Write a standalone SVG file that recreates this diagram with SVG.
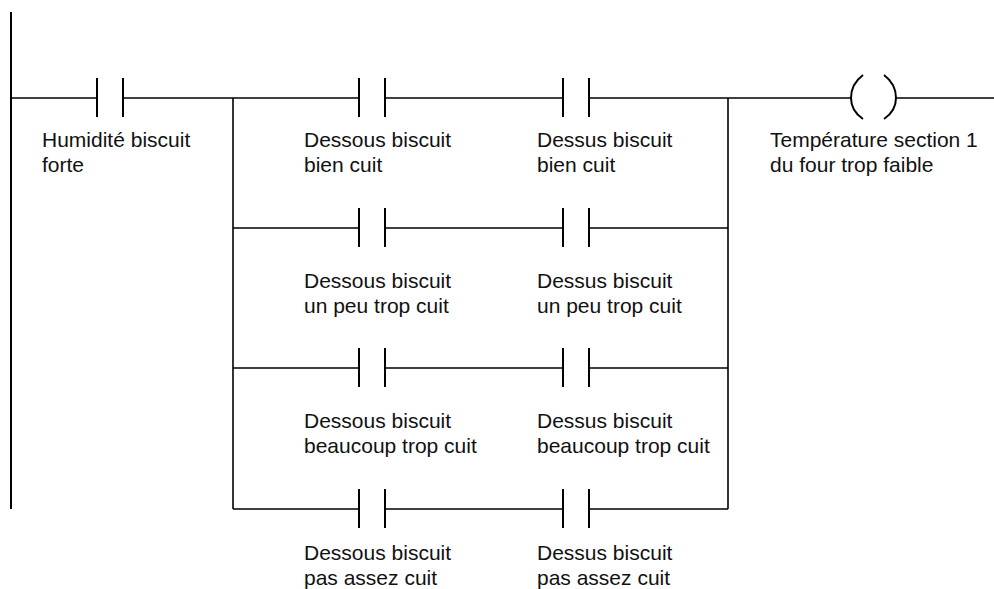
<svg xmlns="http://www.w3.org/2000/svg" width="994" height="589" viewBox="0 0 994 589">
<style>
.w{stroke:#000;stroke-width:1.6;fill:none}
.b{stroke:#000;stroke-width:2;fill:none}
text{font-family:"Liberation Sans",Arial,sans-serif;font-size:21px;fill:#111}
</style>
<rect width="994" height="589" fill="#fff"/>
<g id="connectors">
<line class="b" x1="11" y1="12" x2="11" y2="509"/>
<polyline class="w" points="11,98 97,98"/>
<polyline class="w" points="123,98 359,98"/>
<line class="w" x1="233" y1="98" x2="233" y2="509"/>
<line class="w" x1="728" y1="98" x2="728" y2="509"/>
<line class="w" x1="589" y1="98" x2="851" y2="98"/>
<line class="w" x1="896" y1="98" x2="994" y2="98"/>
<line class="w" x1="385" y1="98" x2="563" y2="98"/>
<line class="w" x1="233" y1="228" x2="359" y2="228"/>
<line class="w" x1="385" y1="228" x2="563" y2="228"/>
<line class="w" x1="589" y1="228" x2="728" y2="228"/>
<line class="w" x1="233" y1="368" x2="359" y2="368"/>
<line class="w" x1="385" y1="368" x2="563" y2="368"/>
<line class="w" x1="589" y1="368" x2="728" y2="368"/>
<line class="w" x1="233" y1="509" x2="359" y2="509"/>
<line class="w" x1="385" y1="509" x2="563" y2="509"/>
<line class="w" x1="589" y1="509" x2="728" y2="509"/>
</g>
<g id="c0"><path class="b" d="M97,78V117M123,78V117"/><text x="42" y="147">Humidité biscuit</text><text x="42" y="172">forte</text></g>
<g id="c1"><path class="b" d="M359,78V117M385,78V117"/><text x="304" y="147">Dessous biscuit</text><text x="304" y="172">bien cuit</text></g>
<g id="c2"><path class="b" d="M563,78V117M589,78V117"/><text x="537" y="147">Dessus biscuit</text><text x="537" y="172">bien cuit</text></g>
<g id="c3"><path class="b" d="M359,208V247M385,208V247"/><text x="304" y="288">Dessous biscuit</text><text x="304" y="313">un peu trop cuit</text></g>
<g id="c4"><path class="b" d="M563,208V247M589,208V247"/><text x="537" y="288">Dessus biscuit</text><text x="537" y="313">un peu trop cuit</text></g>
<g id="c5"><path class="b" d="M359,348V387M385,348V387"/><text x="304" y="428">Dessous biscuit</text><text x="304" y="453">beaucoup trop cuit</text></g>
<g id="c6"><path class="b" d="M563,348V387M589,348V387"/><text x="537" y="428">Dessus biscuit</text><text x="537" y="453">beaucoup trop cuit</text></g>
<g id="c7"><path class="b" d="M359,489V528M385,489V528"/><text x="304" y="560">Dessous biscuit</text><text x="304" y="585">pas assez cuit</text></g>
<g id="c8"><path class="b" d="M563,489V528M589,489V528"/><text x="537" y="560">Dessus biscuit</text><text x="537" y="585">pas assez cuit</text></g>
<g id="coil"><path class="b" d="M863,75Q851,84 851,98Q851,111 863,119M884,75Q896,84 896,98Q896,111 884,119"/><text x="770" y="147">Température section 1</text><text x="770" y="172">du four trop faible</text></g>
</svg>
